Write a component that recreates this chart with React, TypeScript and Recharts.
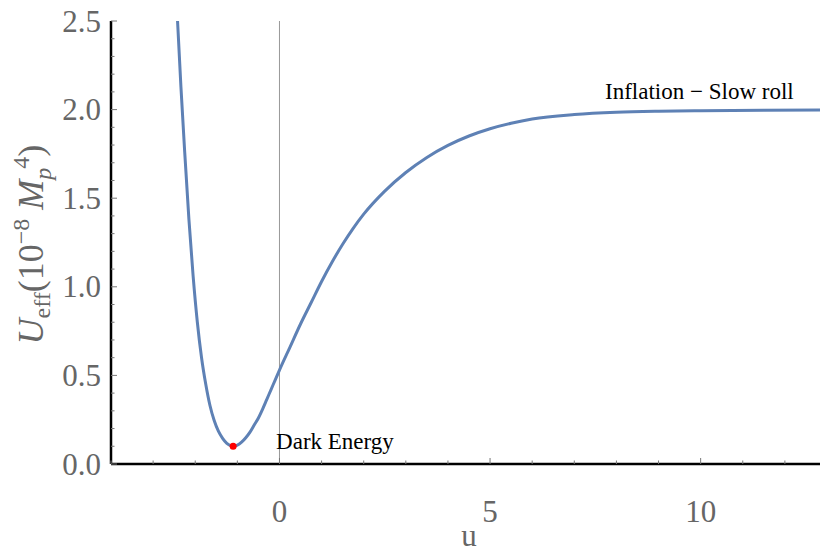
import { LineChart, Line, XAxis, YAxis, ReferenceLine, ReferenceDot } from "recharts";

// field values
const uValues = [
  -2.42, -2.34, -2.25, -2.15, -2.05, -1.95, -1.85, -1.75, -1.65, -1.55, -1.45, -1.35, -1.25, -1.15, -1.1,
  -1.0, -0.9, -0.8, -0.7, -0.6, -0.5, -0.4, -0.3, -0.2, -0.1, 0, 0.25, 0.5, 0.75, 1.0, 1.25, 1.5, 1.75, 2.0,
  2.5, 3.0, 3.5, 4.0, 4.5, 5.0, 5.5, 6.0, 7.0, 8.0, 9.0, 10.0, 11.5, 13,
];
const uEffValues = [
  2.5, 2.13, 1.76, 1.38, 1.06, 0.8, 0.6, 0.45, 0.33, 0.245, 0.185, 0.145, 0.117, 0.103, 0.1,
  0.106, 0.123, 0.148, 0.18, 0.22, 0.26, 0.31, 0.365, 0.42, 0.475, 0.53, 0.66, 0.79, 0.91, 1.03, 1.14, 1.24, 1.33, 1.41,
  1.54, 1.645, 1.73, 1.798, 1.851, 1.892, 1.923, 1.947, 1.972, 1.985, 1.991, 1.994, 1.997, 1.998,
];

const bottomTicks = [-4, -3, -2, -1, 0, 1, 2, 3, 4, 5, 6, 7, 8, 9, 10, 11, 12, 13];
const bottomLabels = [0, 5, 10];
const topTicks = [-4, -3.5, -3, -2.5, -2, -1.5, -1, -0.5, 0, 0.5, 1, 1.5, 2, 2.5, 3, 3.5, 4, 4.5, 5, 5.5, 6, 6.5, 7, 7.5, 8, 8.5, 9, 9.5, 10, 10.5, 11, 11.5, 12, 12.5, 13];
const topMajor = [-2.5, 0, 2.5, 5, 7.5, 10, 12.5];
const yTicks = [0, 0.1, 0.2, 0.3, 0.4, 0.5, 0.6, 0.7, 0.8, 0.9, 1.0, 1.1, 1.2, 1.3, 1.4, 1.5, 1.6, 1.7, 1.8, 1.9, 2.0, 2.1, 2.2, 2.3, 2.4, 2.5];
const yLabels = [0, 0.5, 1.0, 1.5, 2.0, 2.5];

const darkEnergy = { u: -1.1, value: 0.1, label: "Dark Energy", labelU: -0.08, labelValue: 0.13 };
const inflation = { label: "Inflation \u2212 Slow roll", labelU: 7.73, labelValue: 2.1 };

const data = uValues.map((u, i) => ({ u, value: uEffValues[i] }));

const FONT = "'Liberation Serif', 'Times New Roman', serif";
const GREY = "#666";

const near = (a: number, list: number[]) => list.some((b) => Math.abs(a - b) < 1e-6);

const BottomTick = (props: any) => {
  const { x, y, payload } = props;
  const v = payload.value;
  const major = near(v, bottomLabels);
  return (
    <g>
      <line x1={x} x2={x} y1={y} y2={y - (major ? 6 : 3.5)} stroke="#777" strokeWidth={1} />
      {major && (
        <text x={x} y={y + 58} textAnchor="middle" fontFamily={FONT} fontSize={31} fill={GREY}>
          {v}
        </text>
      )}
    </g>
  );
};

const TopTick = (props: any) => {
  const { x, y, payload } = props;
  const major = near(payload.value, topMajor);
  return <line x1={x} x2={x} y1={y} y2={y + (major ? 6 : 3.5)} stroke="#777" strokeWidth={1} />;
};

const LeftTick = (props: any) => {
  const { x, y, payload } = props;
  const v = payload.value;
  const major = near(v, yLabels);
  return (
    <g>
      <line x1={x} x2={x + (major ? 6 : 3.5)} y1={y} y2={y} stroke="#777" strokeWidth={1} />
      {major && (
        <text x={x - 10} y={y + 10.5} textAnchor="end" fontFamily={FONT} fontSize={31} fill={GREY}>
          {v.toFixed(1)}
        </text>
      )}
    </g>
  );
};

const YLabel = (props: any) => {
  const { viewBox } = props;
  const cy = viewBox.y + viewBox.height / 2 + 2;
  const cx = 43;
  return (
    <text x={cx} y={cy} transform={`rotate(-90 ${cx} ${cy})`} textAnchor="middle" fontFamily={FONT} fontSize={36} fill={GREY}>
      <tspan fontStyle="italic">U</tspan>
      <tspan fontSize={24} dy={7}>eff</tspan>
      <tspan dy={-7}>(10</tspan>
      <tspan fontSize={24} dy={-14}>{"\u22128"}</tspan>
      <tspan dy={14}> </tspan>
      <tspan fontStyle="italic">M</tspan>
      <tspan fontSize={24} fontStyle="italic" dy={8}>p</tspan>
      <tspan fontSize={24} dy={-22} dx={-1}>4</tspan>
      <tspan dy={14}>)</tspan>
    </text>
  );
};

const XLabel = (props: any) => {
  const { viewBox } = props;
  const cx = viewBox.x + viewBox.width / 2;
  return (
    <text x={cx} y={546} textAnchor="middle" fontFamily={FONT} fontSize={31} fill={GREY}>
      u
    </text>
  );
};

const TextAt = (text: string, size: number) => (props: any) => {
  const { viewBox } = props;
  return (
    <text x={viewBox.x} y={viewBox.y + size * 0.33} fontFamily={FONT} fontSize={size} fill="#000">
      {text}
    </text>
  );
};

export default function App() {
  return (
    <div style={{ position: "absolute", left: 0, top: 0, width: 820, height: 553, overflow: "hidden", background: "#fff" }}>
      <LineChart width={830} height={553} data={data} margin={{ top: 21, right: 3, bottom: 0, left: 0 }}>
        <XAxis
          dataKey="u"
          type="number"
          domain={[-4, 13]}
          ticks={bottomTicks}
          allowDataOverflow
          interval={0}
          height={89}
          axisLine={{ stroke: "#000", strokeWidth: 2.5 }}
          tickLine={false}
          tickSize={0}
          tickMargin={0}
          tick={<BottomTick />}
          label={<XLabel />}
        />
        <XAxis
          xAxisId="top"
          orientation="top"
          dataKey="u"
          type="number"
          domain={[-4, 13]}
          ticks={topTicks}
          allowDataOverflow
          interval={0}
          height={0}
          axisLine={{ stroke: "#000", strokeWidth: 2.5 }}
          tickLine={false}
          tickSize={0}
          tickMargin={0}
          tick={<TopTick />}
        />
        <YAxis
          type="number"
          domain={[0, 2.5]}
          ticks={yTicks}
          allowDataOverflow
          interval={0}
          width={111}
          axisLine={{ stroke: "#000", strokeWidth: 2.5 }}
          tickLine={false}
          tickSize={0}
          tickMargin={0}
          tick={<LeftTick />}
          label={<YLabel />}
        />
        <ReferenceLine x={0} stroke="#999" strokeWidth={1} />
        <Line
          dataKey="value"
          type="monotone"
          stroke="#5E81B5"
          strokeWidth={3}
          dot={false}
          isAnimationActive={false}
        />
        <Line
          xAxisId="top"
          dataKey="value"
          type="monotone"
          stroke="none"
          dot={false}
          legendType="none"
          isAnimationActive={false}
        />
        <ReferenceDot x={darkEnergy.u} y={darkEnergy.value} r={3.5} fill="#ff0000" stroke="none" />
        <ReferenceDot x={darkEnergy.labelU} y={darkEnergy.labelValue} r={0} stroke="none" label={TextAt(darkEnergy.label, 23)} />
        <ReferenceDot x={inflation.labelU} y={inflation.labelValue} r={0} stroke="none" label={TextAt(inflation.label, 23)} />
      </LineChart>
    </div>
  );
}
